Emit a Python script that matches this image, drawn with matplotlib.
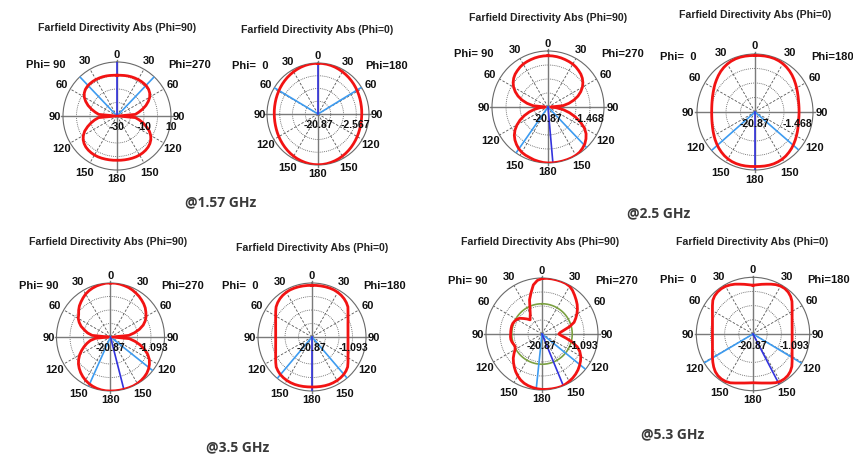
import numpy as np
import matplotlib
matplotlib.use("Agg")
import matplotlib.pyplot as plt

W, H = 854, 456

# Sample angles (degrees, clockwise from the 0 direction at the top)
theta_deg = np.arange(0, 360, 5)

# Normalised pattern radius (0 = centre value, 1 = outer ring) at each sample angle
r_157_phi90 = [
    .755, .757, .762, .768, .773, .777, .780, .782, .781, .777, .765, .740, .700, .640, .570, .490, .410, .340,
    .020, .340, .420, .500, .580, .660, .720, .765, .795, .815, .826, .832, .835, .834, .831, .827, .824, .822,
    .820, .822, .824, .827, .831, .834, .835, .832, .826, .815, .795, .765, .720, .660, .580, .500, .420, .340,
    .020, .340, .410, .490, .570, .640, .700, .740, .765, .777, .781, .782, .780, .777, .773, .768, .762, .757]
r_157_phi0 = [
    .995, .994, .991, .985, .977, .967, .957, .946, .935, .924, .913, .902, .892, .883, .875, .868, .863, .860,
    .858, .858, .860, .864, .870, .878, .887, .897, .908, .920, .932, .944, .955, .966, .975, .983, .990, .994,
    .995, .994, .990, .983, .975, .966, .955, .944, .932, .920, .908, .897, .887, .878, .870, .864, .860, .858,
    .858, .860, .863, .868, .875, .883, .892, .902, .913, .924, .935, .946, .957, .967, .977, .985, .991, .994]
r_25_phi90 = [
    .916, .915, .912, .907, .900, .893, .885, .870, .850, .830, .800, .760, .710, .645, .570, .480, .380, .270,
    .050, .150, .280, .400, .520, .640, .750, .830, .885, .930, .960, .985, .997, 1.00, 1.00, 1.00, 1.00, 1.00,
    1.00, .995, .985, .975, .960, .950, .935, .910, .875, .835, .785, .720, .640, .550, .450, .350, .250, .150,
    .050, .270, .380, .480, .570, .645, .710, .760, .800, .830, .850, .870, .885, .893, .900, .907, .912, .915]
r_25_phi0 = [
    .975, .977, .980, .981, .980, .973, .962, .945, .925, .902, .877, .852, .829, .808, .790, .776, .767, .762,
    .760, .761, .765, .775, .789, .806, .825, .846, .868, .890, .909, .926, .939, .946, .950, .949, .946, .942,
    .940, .942, .945, .947, .947, .943, .934, .920, .902, .882, .860, .838, .816, .796, .779, .765, .755, .749,
    .747, .749, .755, .765, .779, .796, .818, .842, .866, .892, .917, .938, .955, .968, .976, .979, .978, .976]
r_35_phi90 = [
    1.00, 1.00, .995, .985, .975, .960, .940, .920, .895, .870, .840, .800, .760, .710, .645, .556, .450, .340,
    .040, .350, .460, .570, .670, .760, .830, .880, .920, .950, .970, .985, .995, 1.00, 1.00, 1.00, 1.00, 1.00,
    1.00, 1.00, .995, .985, .970, .950, .925, .895, .860, .820, .775, .720, .660, .590, .520, .450, .380, .280,
    .040, .340, .430, .500, .580, .640, .690, .720, .770, .815, .850, .885, .920, .945, .965, .980, .990, 1.00]
r_35_phi0 = [
    .957, .958, .960, .962, .963, .962, .955, .943, .925, .900, .868, .814, .770, .736, .709, .690, .677, .669,
    .667, .669, .677, .690, .709, .736, .770, .814, .862, .890, .910, .922, .930, .934, .935, .933, .930, .927,
    .926, .927, .930, .933, .935, .934, .930, .922, .910, .890, .865, .820, .777, .743, .716, .697, .683, .675,
    .673, .675, .683, .697, .716, .743, .777, .821, .868, .900, .925, .943, .955, .962, .963, .962, .960, .958]
r_53_phi90 = [
    .990, .998, 1.00, 1.00, 1.00, .998, .985, .950, .905, .862, .820, .772, .720, .665, .610, .510, .400, .330,
    .300, .350, .440, .560, .670, .745, .800, .840, .875, .908, .935, .958, .975, .990, 1.00, .998, .995, .992,
    .990, .982, .970, .955, .935, .905, .865, .820, .770, .720, .670, .610, .555, .530, .540, .555, .565, .565,
    .560, .560, .560, .560, .555, .540, .520, .490, .430, .380, .330, .370, .420, .510, .650, .760, .890, .960]
r_53_phi0 = [
    .860, .872, .890, .910, .935, .960, .975, .978, .965, .938, .897, .842, .797, .761, .734, .714, .701, .693,
    .690, .693, .701, .714, .734, .761, .797, .842, .894, .932, .956, .966, .964, .948, .920, .895, .878, .866,
    .860, .866, .878, .895, .920, .950, .966, .970, .962, .940, .905, .865, .826, .789, .761, .740, .726, .718,
    .715, .718, .726, .740, .761, .789, .826, .873, .925, .955, .970, .975, .970, .955, .935, .910, .890, .872]

# Reference circle shown in the 5.3 GHz Phi=90 cut
green_ring_53 = 0.54

# Beam-direction markers (degrees): light blue = beamwidth edges, dark blue = main lobe
light_157_phi90, dark_157_phi90 = [316.5, 43.5], 0.0
light_157_phi0, dark_157_phi0 = [301.0, 58.5], 0.0
light_25_phi90, dark_25_phi90 = [214.8, 136.4], 175.0
light_25_phi0, dark_25_phi0 = [228.5, 131.0], 180.0
light_35_phi90, dark_35_phi90 = [204.0, 128.5], 165.7
light_35_phi0, dark_35_phi0 = [220.0, 139.5], 180.0
light_53_phi90, dark_53_phi90 = [186.0, 129.0], 157.6
light_53_phi0, dark_53_phi0 = [239.4, 121.0], 152.5

angle_ticks = [0, 30, 60, 90, 120, 150, 180, 210, 240, 270, 300, 330]
angle_labels = ["0", "30", "60", "90", "120", "150", "180", "150", "120", "90", "60", "30"]

freq_labels = ["@1.57 GHz", "@2.5 GHz", "@3.5 GHz", "@5.3 GHz"]

RED = "#f21313"
LBLUE = "#3d9bf0"
DBLUE = "#3333dd"
GREEN = "#7ba042"
GRID = "#555555"
AXIS = "#7a7a7a"
LAB = dict(family="Liberation Sans", weight="bold", size=8, color="#111111")
RLAB = dict(family="Liberation Sans", weight="bold", size=7.6, color="#111111")
TITLE = dict(family="Liberation Sans", weight="bold", size=7.6, color="#222222")

fig = plt.figure(figsize=(W / 100, H / 100), dpi=100)
fig.patch.set_facecolor("white")


def panel(cx, cy, R, radii, light, dark, title, tx, ty, left_phi, right_phi,
          rlabels, green=None):
    ax = fig.add_axes([(cx - R) / W, 1 - (cy + R) / H, 2 * R / W, 2 * R / H],
                      projection="polar")
    ax.set_theta_zero_location("N")
    ax.set_theta_direction(-1)
    ax.set_ylim(0, 1)
    ax.set_xticks([])
    ax.set_yticks([])
    ax.grid(False)
    ax.spines["polar"].set_color("#6a6a6a")
    ax.spines["polar"].set_linewidth(0.8)

    ring = np.linspace(0, 2 * np.pi, 361)
    for rr in (0.25, 0.5, 0.75):
        ax.plot(ring, np.full_like(ring, rr), ls=(0, (1, 1.3)), color=GRID, lw=0.6)
    for a in (30, 60, 120, 150, 210, 240, 300, 330):
        ax.plot([np.radians(a)] * 2, [0, 1], ls=(0, (3, 2)), color=GRID, lw=0.6)
    for a in (0, 90, 180, 270):
        ax.plot([np.radians(a)] * 2, [0, 1.03], color=AXIS, lw=1.0, clip_on=False)

    if green is not None:
        ax.plot(ring, np.full_like(ring, green), color=GREEN, lw=1.2, zorder=3)

    for a in light:
        ax.plot([np.radians(a)] * 2, [0, 1], color=LBLUE, lw=1.2, zorder=3)
    ax.plot([np.radians(dark)] * 2, [0, 1], color=DBLUE, lw=1.2, zorder=3)

    th = np.radians(np.append(theta_deg, theta_deg[0]))
    rr = np.append(radii, radii[0])
    ax.plot(th, rr, color=RED, lw=2.0, zorder=4, solid_joinstyle="round")

    for a, lab in zip(angle_ticks, angle_labels):
        dist = 1.15 if a % 90 == 0 else 1.19
        ax.text(np.radians(a), dist, lab, ha="center", va="center",
                clip_on=False, **LAB)

    ax.text(-0.16, 0.985, left_phi, transform=ax.transAxes, ha="center",
            va="center", **LAB)
    ax.text(1.17, 0.985, right_phi, transform=ax.transAxes, ha="center",
            va="center", **LAB)
    for xpos, lab in rlabels:
        ax.text(0.5 + 0.5 * xpos, 0.405, lab, transform=ax.transAxes,
                ha="center", va="center", zorder=6, **RLAB)

    fig.text(tx / W, 1 - ty / H, title, ha="center", va="center", **TITLE)
    return ax


t90 = "Farfield Directivity Abs (Phi=90)"
t0 = "Farfield Directivity Abs (Phi=0)"

panel(117, 117, 54, r_157_phi90, light_157_phi90, dark_157_phi90, t90, 117, 28,
      "Phi= 90", "Phi=270", [(0, "-30"), (0.5, "-10"), (1.0, "10")])
panel(318, 115, 51, r_157_phi0, light_157_phi0, dark_157_phi0, t0, 317, 30,
      "Phi=  0", "Phi=180", [(0, "-20.87"), (0.73, "-2.567")])
panel(548, 108, 56, r_25_phi90, light_25_phi90, dark_25_phi90, t90, 548, 18,
      "Phi= 90", "Phi=270", [(0, "-20.87"), (0.74, "-1.468")])
panel(755, 113, 58, r_25_phi0, light_25_phi0, dark_25_phi0, t0, 755, 15,
      "Phi=  0", "Phi=180", [(0, "-20.87"), (0.74, "-1.468")])
panel(110.5, 338, 54, r_35_phi90, light_35_phi90, dark_35_phi90, t90, 108, 242,
      "Phi= 90", "Phi=270", [(0, "-20.87"), (0.79, "-1.093")])
panel(312, 338, 54, r_35_phi0, light_35_phi0, dark_35_phi0, t0, 312, 248,
      "Phi=  0", "Phi=180", [(0, "-20.87"), (0.76, "-1.093")])
panel(542, 335, 56, r_53_phi90, light_53_phi90, dark_53_phi90, t90, 540, 242,
      "Phi= 90", "Phi=270", [(0, "-20.87"), (0.74, "-1.093")], green=green_ring_53)
panel(753, 335, 56.7, r_53_phi0, light_53_phi0, dark_53_phi0, t0, 752, 242,
      "Phi=  0", "Phi=180", [(0, "-20.87"), (0.73, "-1.093")])

freq_pos = [(221, 202), (659, 213), (237.5, 447), (673, 434)]
for (fx, fy), lab in zip(freq_pos, freq_labels):
    fig.text(fx / W, 1 - fy / H, lab, ha="center", va="center",
             family="Open Sans", weight="bold", size=10, color="#3a3a3a")

fig.savefig("out.png", dpi=100, facecolor="white")
